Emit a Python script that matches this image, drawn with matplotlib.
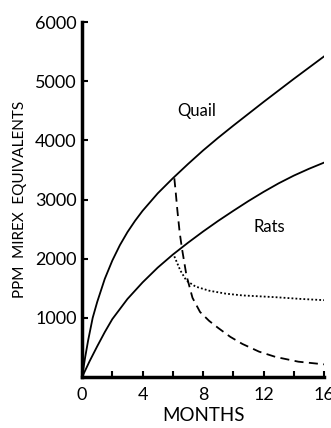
import matplotlib
matplotlib.use("Agg")
import matplotlib.pyplot as plt

plt.rcParams['font.family'] = ['Lato', 'DejaVu Sans']

# values
quail_months = [0, 0.2, 0.4, 0.7, 1, 1.5, 2, 2.5, 3, 3.5, 4, 5, 6, 7, 8, 9, 10, 12, 14, 16]
quail_ppm = [0, 330, 620, 1000, 1270, 1660, 1970, 2230, 2450, 2640, 2810, 3105, 3360,
             3600, 3830, 4045, 4250, 4650, 5040, 5420]

rats_months = [0, 0.5, 1, 1.5, 2, 3, 4, 5, 6, 7, 8, 9, 10, 11, 12, 13, 14, 15, 16]
rats_ppm = [0, 270, 520, 760, 980, 1320, 1600, 1850, 2070, 2270, 2460, 2640, 2810,
            2975, 3130, 3275, 3405, 3520, 3625]

# quail after mirex removed (dashed)
quail_off_months = [6.1, 6.2, 6.3, 6.45, 6.6, 6.9, 7.3, 7.8, 8.4, 9.0, 9.8, 10.6, 11.7, 12.8, 14.3, 16]
quail_off_ppm = [3360, 3100, 2820, 2450, 2180, 1720, 1340, 1100, 950, 830, 680, 560, 430, 340, 260, 215]

# rats after mirex removed (dotted)
rats_off_months = [6.1, 6.5, 6.9, 7.5, 8.4, 9.5, 10.6, 12.8, 14.5, 16]
rats_off_ppm = [2040, 1800, 1630, 1530, 1460, 1410, 1380, 1350, 1320, 1300]

xticks = [0, 4, 8, 12, 16]
yticks = [1000, 2000, 3000, 4000, 5000, 6000]

fig = plt.figure(figsize=(3.31, 4.28), dpi=100)
ax = fig.add_axes([0.248, 0.119, 0.731, 0.8294])

ax.plot(quail_months, quail_ppm, color='black', lw=1.3)
ax.plot(rats_months, rats_ppm, color='black', lw=1.3)
ax.plot(quail_off_months, quail_off_ppm, color='black', lw=1.3, ls=(0, (5, 3)))
ax.plot(rats_off_months, rats_off_ppm, color='black', lw=1.3, ls=(0, (1, 1.2)))

ax.set_xlim(0, 16)
ax.set_ylim(0, 6000)
ax.set_xticks(xticks)
ax.set_xticks(range(0, 17, 2), minor=True)
ax.set_yticks(yticks)
ax.tick_params(axis='both', direction='in', length=4, width=1.5, labelsize=13, pad=4)
ax.tick_params(axis='x', pad=7)
ax.tick_params(axis='x', which='minor', direction='in', length=4, width=1.5)
ax.spines['top'].set_visible(False)
ax.spines['right'].set_visible(False)
ax.spines['left'].set_linewidth(2.5)
ax.spines['bottom'].set_linewidth(2.5)

ax.text(7.6, 4500, 'Quail', fontsize=12, ha='center', va='center')
ax.text(12.4, 2530, 'Rats', fontsize=12, ha='center', va='center')
ax.set_xlabel('MONTHS', fontsize=13.5, labelpad=3)
ax.set_ylabel('PPM  MIREX  EQUIVALENTS', fontsize=11, labelpad=6)

fig.savefig('out.png', dpi=100)
